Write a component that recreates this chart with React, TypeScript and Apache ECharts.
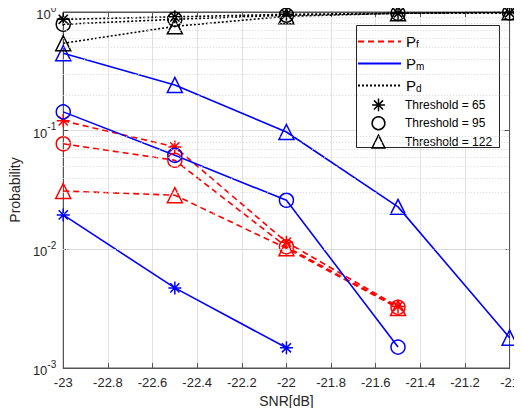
import React, { useEffect, useRef } from 'react';
import * as echarts from 'echarts';

const snr = [-23, -22.5, -22, -21.5, -21];
const pf65 = [0.121, 0.073, 0.0115, 0.0033, null];
const pf95 = [0.0775, 0.0563, 0.0105, 0.00325, null];
const pf122 = [0.031, 0.0286, 0.0102, 0.0032, null];
const pm65 = [0.0195, 0.00473, 0.00148, null, null];
const pm95 = [0.144, 0.062, 0.0259, 0.0015, null];
const pm122 = [0.45, 0.243, 0.0975, 0.0228, 0.0018];
const pd65 = [0.868, 0.91, 0.956, 0.975, 0.985];
const pd95 = [0.788, 0.868, 0.94, 0.975, 0.985];
const pd122 = [0.545, 0.757, 0.92, 0.975, 0.995];

const thresholdNames = ['Threshold = 65', 'Threshold = 95', 'Threshold = 122'];
const probNames = ['Pf', 'Pm', 'Pd'];
const decades = [0.001, 0.01, 0.1];
const minorMultipliers = [2, 3, 4, 5, 6, 7, 8, 9];

const STAR = 'path://M0 10H20M10 0V20M2.93 2.93L17.07 17.07M17.07 2.93L2.93 17.07';
const RED = '#ff0000';
const BLUE = '#0000ff';
const BLACK = '#000000';
const FONT = 'Liberation Sans, Arial, Helvetica, sans-serif';

const markers: Record<string, { symbol: string; size: number }> = {
  '65': { symbol: STAR, size: 13 },
  '95': { symbol: 'circle', size: 14 },
  '122': { symbol: 'triangle', size: 15 },
};

const lineStyles: Record<string, any> = {
  Pf: { color: RED, width: 1.6, type: [6, 4] },
  Pm: { color: BLUE, width: 1.6, type: 'solid' },
  Pd: { color: BLACK, width: 1.6, type: [2, 2] },
};

function pairs(vals: (number | null)[]) {
  const out: [number, number][] = [];
  vals.forEach((v, i) => {
    if (v !== null) out.push([snr[i], v]);
  });
  return out;
}

function dataSeries(kind: string, th: string, vals: (number | null)[]) {
  const ls = lineStyles[kind];
  const m = markers[th];
  return {
    name: kind + th,
    type: 'line',
    data: pairs(vals),
    symbol: m.symbol,
    symbolSize: m.size,
    showAllSymbol: true,
    lineStyle: ls,
    itemStyle: { color: 'none', borderColor: ls.color, borderWidth: 1.5 },
    z: 3,
  };
}

export default function App() {
  const ref = useRef<HTMLDivElement>(null);
  useEffect(() => {
    if (!ref.current) return;
    const chart = echarts.init(ref.current, undefined, { renderer: 'svg' });
    const minorVals: number[] = [];
    decades.forEach((d) => minorMultipliers.forEach((k) => minorVals.push(k * d)));

    const series: any[] = [
      dataSeries('Pf', '65', pf65),
      dataSeries('Pf', '95', pf95),
      dataSeries('Pf', '122', pf122),
      dataSeries('Pm', '65', pm65),
      dataSeries('Pm', '95', pm95),
      dataSeries('Pm', '122', pm122),
      dataSeries('Pd', '65', pd65),
      dataSeries('Pd', '95', pd95),
      dataSeries('Pd', '122', pd122),
      {
        name: 'minorGrid',
        type: 'line',
        data: [],
        silent: true,
        z: 1,
        markLine: {
          silent: true,
          symbol: 'none',
          label: { show: false },
          lineStyle: { color: '#d4d4d4', width: 1, type: [1, 2] },
          data: minorVals.map((v) => ({ yAxis: v })),
        },
      },
    ];
    probNames.forEach((n) => {
      series.push({
        name: n,
        type: 'line',
        data: [],
        symbol: 'none',
        lineStyle: lineStyles[n],
        itemStyle: { color: lineStyles[n].color },
      });
    });
    thresholdNames.forEach((n) => {
      const th = n.split('= ')[1];
      series.push({
        name: n,
        type: 'line',
        data: [],
        symbol: markers[th].symbol,
        symbolSize: markers[th].size,
        lineStyle: { width: 0, opacity: 0 },
        itemStyle: { color: 'none', borderColor: BLACK, borderWidth: 1.5 },
      });
    });

    const option: any = {
      animation: false,
      backgroundColor: '#ffffff',
      grid: {
        left: 59,
        right: 10,
        top: 12,
        bottom: 48,
        show: true,
        borderColor: '#555555',
        borderWidth: 1,
        backgroundColor: 'transparent',
      },
      xAxis: [
        {
          type: 'value',
          min: -23,
          max: -21,
          interval: 0.2,
          name: 'SNR[dB]',
          nameLocation: 'middle',
          nameGap: 19,
          nameTextStyle: { fontFamily: FONT, fontSize: 14, color: '#262626' },
          axisLine: { show: true, lineStyle: { color: '#555555' } },
          axisTick: { show: true, inside: true, length: 5, lineStyle: { color: '#555555' } },
          axisLabel: {
            margin: 8,
            fontFamily: FONT,
            fontSize: 13,
            color: '#262626',
            hideOverlap: false,
            formatter: (v: number) => {
              const r = Math.round(v * 10) / 10;
              return Number.isInteger(r) ? String(r) : r.toFixed(1);
            },
          },
          splitLine: { show: true, lineStyle: { color: '#e0e0e0', width: 1 } },
        },
        {
          type: 'value',
          position: 'top',
          min: -23,
          max: -21,
          interval: 0.2,
          axisLine: { show: true, lineStyle: { color: '#555555' } },
          axisTick: { show: true, inside: true, length: 5, lineStyle: { color: '#555555' } },
          axisLabel: { show: false },
          splitLine: { show: false },
        },
      ],
      yAxis: [
        {
          type: 'log',
          logBase: 10,
          min: 0.001,
          max: 1,
          name: 'Probability',
          nameLocation: 'middle',
          nameRotate: 90,
          nameGap: 38,
          nameTextStyle: { fontFamily: FONT, fontSize: 14, color: '#262626' },
          axisLine: { show: true, lineStyle: { color: '#555555' } },
          axisTick: { show: true, inside: true, length: 5, lineStyle: { color: '#555555' } },
          axisLabel: {
            margin: 7,
            formatter: (v: number) => {
              const e = Math.round(Math.log10(v));
              return '{b|10}{e|' + e + '}';
            },
            rich: {
              b: { fontFamily: FONT, fontSize: 13, lineHeight: 18, color: '#262626', verticalAlign: 'bottom' },
              e: { fontFamily: FONT, fontSize: 10, lineHeight: 8, color: '#262626', verticalAlign: 'top' },
            },
          },
          splitLine: { show: true, lineStyle: { color: '#e0e0e0', width: 1 } },
        },
        {
          type: 'log',
          logBase: 10,
          min: 0.001,
          max: 1,
          position: 'right',
          axisLine: { show: true, lineStyle: { color: '#555555' } },
          axisTick: { show: true, inside: true, length: 5, lineStyle: { color: '#555555' } },
          axisLabel: { show: false },
          splitLine: { show: false },
        },
      ],
      legend: [
        {
          data: probNames,
          orient: 'vertical',
          left: 357,
          top: 29,
          itemWidth: 43,
          itemHeight: 14,
          itemGap: 2,
          padding: 0,
          itemStyle: { opacity: 0 },
          formatter: (name: string) => '{p|P}{s|' + name.slice(1) + '}',
          textStyle: {
            rich: {
              p: { fontFamily: FONT, fontSize: 15, lineHeight: 15, color: '#000', verticalAlign: 'top' },
              s: { fontFamily: FONT, fontSize: 10, lineHeight: 10, color: '#000', padding: [10, 0, 0, 0], verticalAlign: 'bottom' },
            },
          },
          selectedMode: false,
        },
        {
          data: thresholdNames,
          orient: 'vertical',
          left: 357,
          top: 96,
          itemWidth: 43,
          itemHeight: 16,
          itemGap: 0.5,
          padding: 0,
          lineStyle: { opacity: 0, width: 0 },
          itemStyle: { color: 'none', borderColor: BLACK, borderWidth: 1.5 },
          textStyle: { fontFamily: FONT, fontSize: 12, color: '#000' },
          selectedMode: false,
        },
      ],
      graphic: [
        {
          type: 'rect',
          left: 356,
          top: 25,
          z: 3,
          shape: { width: 143, height: 122 },
          style: { fill: '#ffffff', stroke: '#262626', lineWidth: 1 },
        },
      ],
      series,
    };
    chart.setOption(option);
    return () => chart.dispose();
  }, []);
  return <div ref={ref} style={{ width: 522, height: 416, margin: -8 }} />;
}
